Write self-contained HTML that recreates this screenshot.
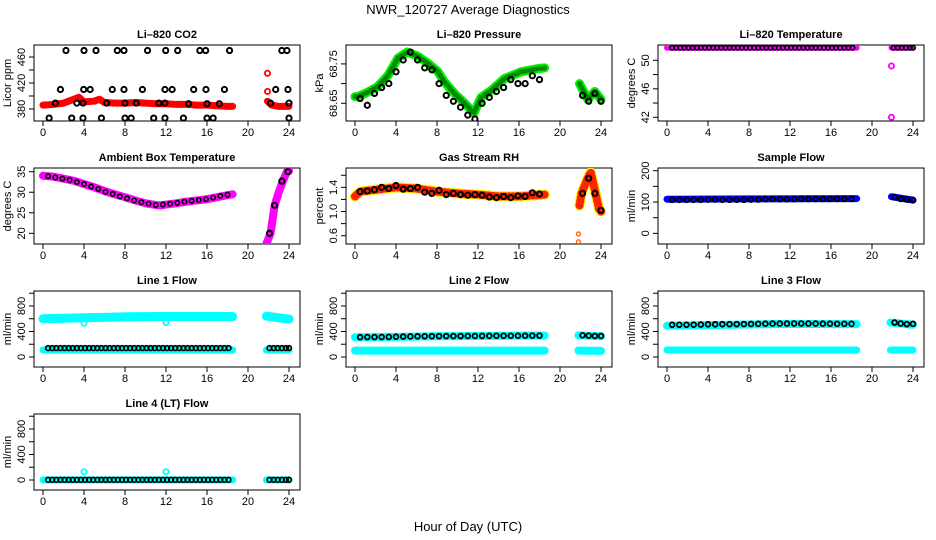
<!DOCTYPE html>
<html><head><meta charset="utf-8">
<style>
html,body{margin:0;padding:0;background:#fff;}
svg{display:block;font-family:"Liberation Sans",sans-serif;}
</style></head>
<body>
<svg id="chart" width="936" height="540" viewBox="0 0 936 540">
<text x="468" y="14" text-anchor="middle" font-size="13">NWR_120727  Average Diagnostics</text>
<text x="468" y="531" text-anchor="middle" font-size="13">Hour of Day (UTC)</text>
</svg>
<script>
// shared circle-hours (black points)
const circH = [0.5,1.2,1.9,2.6,3.3,4.0,4.7,5.4,6.1,6.8,7.5,8.2,8.9,9.6,10.3,11.0,11.7,12.4,13.1,13.8,14.5,15.2,15.9,16.6,17.3,18.0,22.2,22.8,23.4,24.0];
const denseH = [0.5,0.9,1.3,1.7,2.1,2.5,2.9,3.3,3.7,4.1,4.5,4.9,5.3,5.7,6.1,6.5,6.9,7.3,7.7,8.1,8.5,8.9,9.3,9.7,10.1,10.5,10.9,11.3,11.7,12.1,12.5,12.9,13.3,13.7,14.1,14.5,14.9,15.3,15.7,16.1,16.5,16.9,17.3,17.7,18.1,22.1,22.5,22.9,23.3,23.7,24.0];
const xTicks = [0,4,8,12,16,20,24];

// CO2
const co2BandH = [0,1,2,2.5,3,3.5,4,5,5.5,6,7,8,9,10,11,12,13,14,15,16,17,18,18.5,null,21.9,22.3,23,24];
const co2BandV = [386,387,389,392,395,398,391,392,395,390,389,389,390,389,388,388,387,387,386,386,385,384,384,null,392,386,384,384];
const co2PtsH = [2.24,4.0,5.17,7.25,7.9,10.2,11.97,13.14,15.3,15.87,18.2,23.3,23.8, 1.7,3.97,4.6,6.76,7.9,9.7,11.9,12.6,14.7,15.9,17.7,22.7,23.9, 1.2,3.3,3.9,6.2,8.0,9.1,11.3,11.9,14.2,16.0,17.2,22.2,24.0, 0.6,2.8,3.9,5.7,8.0,8.6,10.8,11.9,13.7,16.0,16.6,24.0];
const co2PtsV = [470,470,470,470,470,470,470,470,470,470,470,470,470, 410,410,410,410,410,410,410,410,410,410,410,410,410, 389,389,389,389,389,389,389,389,388,388,388,389,389, 366,366,366,366,366,366,366,366,366,366,366,366];
const co2RedH = [21.9,21.9];
const co2RedV = [435,407];

// Pressure
const presBandH = [0,0.25,1,2.2,3.2,4.2,5.1,6.1,7.1,8.1,8.7,9.7,10.7,11.6,12.3,13.3,14.6,16.2,17.8,18.5,null,21.9,22.3,22.7,23.4,24];
const presBandV = [68.667,68.667,68.675,68.692,68.72,68.765,68.78,68.77,68.752,68.73,68.705,68.675,68.65,68.625,68.665,68.683,68.713,68.73,68.738,68.74,null,68.7,68.68,68.66,68.68,68.66];
const presPtsV = [68.662,68.645,68.675,68.69,68.70,68.73,68.76,68.78,68.76,68.74,68.735,68.70,68.67,68.655,68.64,68.62,68.61,68.65,68.665,68.68,68.69,68.71,68.70,68.70,68.72,68.71,68.67,68.655,68.675,68.655];

// Li-820 temperature
const tempBandH = [0,18.5,null,21.9,24];
const tempBandV = [51.77,51.77,null,51.77,51.77];
const tempPtsV = denseH.map(()=>51.77);
const tempOutH = [21.9,21.9];
const tempOutV = [49.2,42.0];

// Ambient box temperature
const ambBandH = [0,1,2,3,4,5,6,7,8,9,10,11,11.5,12,13,14,15,16,17,18,18.5,null,21.8,22.2,22.6,23.0,23.4,23.8,24];
const ambBandV = [34.0,33.8,33.3,32.8,32.0,31.2,30.3,29.5,28.8,28.0,27.3,26.9,26.8,27.0,27.3,27.7,28.0,28.3,28.8,29.3,29.5,null,17.5,20,26.8,30,32.7,35,35.2];
const ambPtsV = [33.9,33.6,33.3,33.0,32.5,32.0,31.4,30.8,30.1,29.6,29.0,28.5,28.0,27.6,27.2,26.9,27.0,27.2,27.4,27.7,27.9,28.1,28.3,28.7,29.1,29.4,20.0,26.8,32.7,35.0];

// Gas stream RH
const rhBandH = [0,0.5,2,4,6,8,10,12,14,16,18.5,null,21.9,22.1,22.7,23.0,23.4,23.8,24];
const rhBandV = [1.25,1.33,1.36,1.40,1.38,1.33,1.30,1.28,1.25,1.25,1.28,null,1.1,1.3,1.55,1.65,1.35,1.05,1.0];
const rhPtsV = [1.33,1.34,1.36,1.40,1.38,1.43,1.37,1.38,1.40,1.32,1.30,1.35,1.28,1.30,1.28,1.27,1.28,1.27,1.24,1.23,1.25,1.23,1.26,1.25,1.31,1.29,1.30,1.55,1.30,1.02];
const rhOutH = [21.8,21.8];
const rhOutV = [0.63,0.5];

// Sample flow
const sfBandH = [0,8,18.5,null,21.9,24];
const sfBandV = [109,110,111,null,117,106];
const sfPtsV = [107,107,107,107,107,108,108,107,107,107,107,108,108,109,110,109,109,109,110,110,110,110,110,110,110,110,115,110,108,106];

// Line flows
const l1UpH = [0,4,8,12,16,18.5,null,21.8,24];
const l1UpV = [600,615,630,635,635,635,null,640,595];
const l1LoH = [0,18.5,null,21.8,24];
const l1LoV = [110,110,null,110,110];
const l1PtsV = denseH.map(()=>140);
const l1OutH = [4,12];
const l1OutV = [530,540];

const l2UpH = [0,4,8,12,16,18.5,null,21.8,24];
const l2UpV = [310,315,325,330,335,335,null,340,325];
const l2LoH = [0,18.5,null,21.8,24];
const l2LoV = [100,100,null,100,95];
const l2PtsV = [310,312,312,313,315,318,320,322,324,325,326,327,328,328,329,330,330,331,332,333,333,333,334,334,335,335,340,335,330,330];

const l3UpH = [0,4,8,12,16,18.5,null,21.8,24];
const l3UpV = [490,500,510,520,515,515,null,540,505];
const l3LoH = [0,18.5,null,21.8,24];
const l3LoV = [110,110,null,110,110];
const l3PtsV = [505,505,505,506,508,512,512,514,515,515,516,518,520,522,524,524,524,525,525,525,524,522,522,520,520,520,540,525,515,520];

const l4BandH = [0,18.5,null,21.8,24];
const l4BandV = [2,2,null,2,2];
const l4PtsV = denseH.map(()=>2);
const l4OutH = [4,12];
const l4OutV = [130,130];

const NS = "http://www.w3.org/2000/svg";
const svg = document.getElementById('chart');
function mk(tag, attrs, parent){
  const e = document.createElementNS(NS, tag);
  for (const k in attrs) e.setAttribute(k, attrs[k]);
  (parent||svg).appendChild(e);
  return e;
}

const panels = [
 {name:'co2', title:'Li\u2013820 CO2', ylab:'Licor ppm', col:0,row:0, ylim:[361.5,478.5], ticks:[380,400,420,440,460], labels:['380','','420','','460']},
 {name:'pressure', title:'Li\u2013820 Pressure', ylab:'kPa', col:1,row:0, ylim:[68.605,68.798], ticks:[68.65,68.70,68.75], labels:['68.65','','68.75']},
 {name:'li820-temp', title:'Li\u2013820 Temperature', ylab:'degrees C', col:2,row:0, ylim:[41.48,52.15], ticks:[42,44,46,48,50], labels:['42','','46','','50']},
 {name:'ambient-temp', title:'Ambient Box Temperature', ylab:'degrees C', col:0,row:1, ylim:[17.4,35.9], ticks:[20,25,30,35], labels:['20','25','30','35']},
 {name:'rh', title:'Gas Stream RH', ylab:'percent', col:1,row:1, ylim:[0.463,1.72], ticks:[0.6,0.8,1.0,1.2,1.4,1.6], labels:['0.6','','1.0','','1.4','']},
 {name:'sample-flow', title:'Sample Flow', ylab:'ml/min', col:2,row:1, ylim:[-34,208.6], ticks:[0,50,100,150,200], labels:['0','','100','','200']},
 {name:'line1-flow', title:'Line 1 Flow', ylab:'ml/min', col:0,row:2, ylim:[-157,1035], ticks:[0,200,400,600,800,1000], labels:['0','','400','','800','']},
 {name:'line2-flow', title:'Line 2 Flow', ylab:'ml/min', col:1,row:2, ylim:[-157,1035], ticks:[0,200,400,600,800,1000], labels:['0','','400','','800','']},
 {name:'line3-flow', title:'Line 3 Flow', ylab:'ml/min', col:2,row:2, ylim:[-157,1035], ticks:[0,200,400,600,800,1000], labels:['0','','400','','800','']},
 {name:'line4-flow', title:'Line 4 (LT) Flow', ylab:'ml/min', col:0,row:3, ylim:[-157,1035], ticks:[0,200,400,600,800,1000], labels:['0','','400','','800','']}
];

function setup(p){
  const x0 = 43 + 312*p.col, top = 45 + 123*p.row, bot = top + 76;
  const left = x0 - 9, right = x0 + 257;
  p.x = h => x0 + h*10.25;
  p.y = v => bot - (v - p.ylim[0])/(p.ylim[1]-p.ylim[0])*(bot-top);
  const g = mk('g', {});
  
  
  p.g = g;
  const t = mk('text', {x:(left+right)/2, y:top-7, 'text-anchor':'middle', 'font-size':11, 'font-weight':'bold'}, g);
  
  
  t.textContent = p.title;
  const box = mk('rect', {x:left, y:top, width:right-left, height:bot-top, fill:'none', stroke:'#000', 'stroke-width':1}, g);
  
  
  xTicks.forEach(h=>{
    mk('line', {x1:p.x(h), x2:p.x(h), y1:bot, y2:bot+5, stroke:'#000'}, g);
    const lt = mk('text', {x:p.x(h), y:bot+15, 'text-anchor':'middle', 'font-size':11}, g);
    
    
    lt.textContent = h;
  });
  p.ticks.forEach((v,i)=>{
    mk('line', {x1:left-5, x2:left, y1:p.y(v), y2:p.y(v), stroke:'#000'}, g);
    if (p.labels[i]) {
      const lt = mk('text', {x:0, y:0, 'text-anchor':'middle', 'font-size':11, transform:`translate(${left-9},${p.y(v)}) rotate(-90)`}, g);
      
      
      lt.textContent = p.labels[i];
    }
  });
  const yl = mk('text', {x:0, y:0, 'text-anchor':'middle', 'font-size':11, transform:`translate(${left-23},${(top+bot)/2}) rotate(-90)`}, g);
  
  
  yl.textContent = p.ylab;
  const clip = mk('clipPath', {id:'clip-'+p.name}, g);
  mk('rect', {x:left, y:top, width:right-left, height:bot-top}, clip);
  p.plot = mk('g', {'clip-path':`url(#clip-${p.name})`}, g);
}

function band(p, H, V, color, w, nm, dash){
  let seg = [];
  const flush = ()=>{
    if (seg.length){
      const pl = mk('polyline', {points:seg.join(' '), fill:'none', stroke:color, 'stroke-width':w, 'stroke-linejoin':'round', 'stroke-linecap':'round'}, p.plot);
      if (dash) pl.setAttribute('stroke-dasharray', dash);
      
      
    }
    seg = [];
  };
  H.forEach((h,i)=>{ if (h===null) flush(); else seg.push(p.x(h)+','+p.y(V[i])); });
  flush();
}
function pts(p, H, V, color, nm, sw, r){
  H.forEach((h,i)=>{
    const c = mk('circle', {cx:p.x(h), cy:p.y(V[i]), r:r||2.6, fill:'none', stroke:color, 'stroke-width':sw||1.8}, p.plot);
    
    
  });
}

panels.forEach(setup);
const [pC,pP,pT,pA,pR,pS,p1,p2,p3,p4] = panels;

band(pC, co2BandH, co2BandV, '#ff0000', 7, 'co2-red-band');
pts(pC, co2RedH, co2RedV, '#ff0000', 'co2-red-point');
pts(pC, co2PtsH, co2PtsV, '#000', 'co2-point', 2);

band(pP, presBandH, presBandV, '#00ee00', 9, 'pressure-green-band');
band(pP, presBandH, presBandV, '#008800', 5, 'pressure-green-dots', '1 3');
pts(pP, circH, presPtsV, '#000', 'pressure-point', 2);

band(pT, tempBandH, tempBandV, '#ff00ff', 6, 'temp-magenta-band');
pts(pT, denseH, tempPtsV, '#000', 'temp-point', 1.6, 2.2);
pts(pT, tempOutH, tempOutV, '#ff00ff', 'temp-outlier');

band(pA, ambBandH, ambBandV, '#ff00ff', 8, 'ambient-magenta-band');
pts(pA, circH.slice(0,26), ambPtsV.slice(0,26), '#000', 'ambient-point', 1.6, 2.2);
pts(pA, [22.1,22.6,23.3,23.9], ambPtsV.slice(26), '#000', 'ambient-point', 2);

band(pR, rhBandH, rhBandV, '#ffee00', 10, 'rh-yellow-band');
band(pR, rhBandH, rhBandV, '#ff2200', 8, 'rh-red-dots', '1 3');
pts(pR, rhOutH, rhOutV, '#ff6600', 'rh-outlier', 1.4, 2);
pts(pR, circH, rhPtsV, '#000', 'rh-point', 2);

band(pS, sfBandH, sfBandV, '#0000ff', 7, 'sample-flow-blue-band');
pts(pS, circH, sfPtsV, '#000', 'sample-flow-point', 1.8, 2.4);

band(p1, l1UpH, l1UpV, '#00ffff', 9, 'line1-upper-band');
band(p1, l1LoH, l1LoV, '#00ffff', 7, 'line1-lower-band');
pts(p1, l1OutH, l1OutV, '#00ffff', 'line1-outlier');
pts(p1, denseH, l1PtsV, '#000', 'line1-point', 1.6, 2.4);

band(p2, l2UpH, l2UpV, '#00ffff', 8, 'line2-upper-band');
band(p2, l2LoH, l2LoV, '#00ffff', 8, 'line2-lower-band');
pts(p2, circH, l2PtsV, '#000', 'line2-point', 1.8, 2.4);

band(p3, l3UpH, l3UpV, '#00ffff', 8, 'line3-upper-band');
band(p3, l3LoH, l3LoV, '#00ffff', 7, 'line3-lower-band');
pts(p3, circH, l3PtsV, '#000', 'line3-point', 1.8, 2.4);

band(p4, l4BandH, l4BandV, '#00ffff', 7, 'line4-band');
pts(p4, l4OutH, l4OutV, '#00ffff', 'line4-outlier');
pts(p4, denseH, l4PtsV, '#000', 'line4-point', 1.6, 2.4);
</script>
</body></html>
